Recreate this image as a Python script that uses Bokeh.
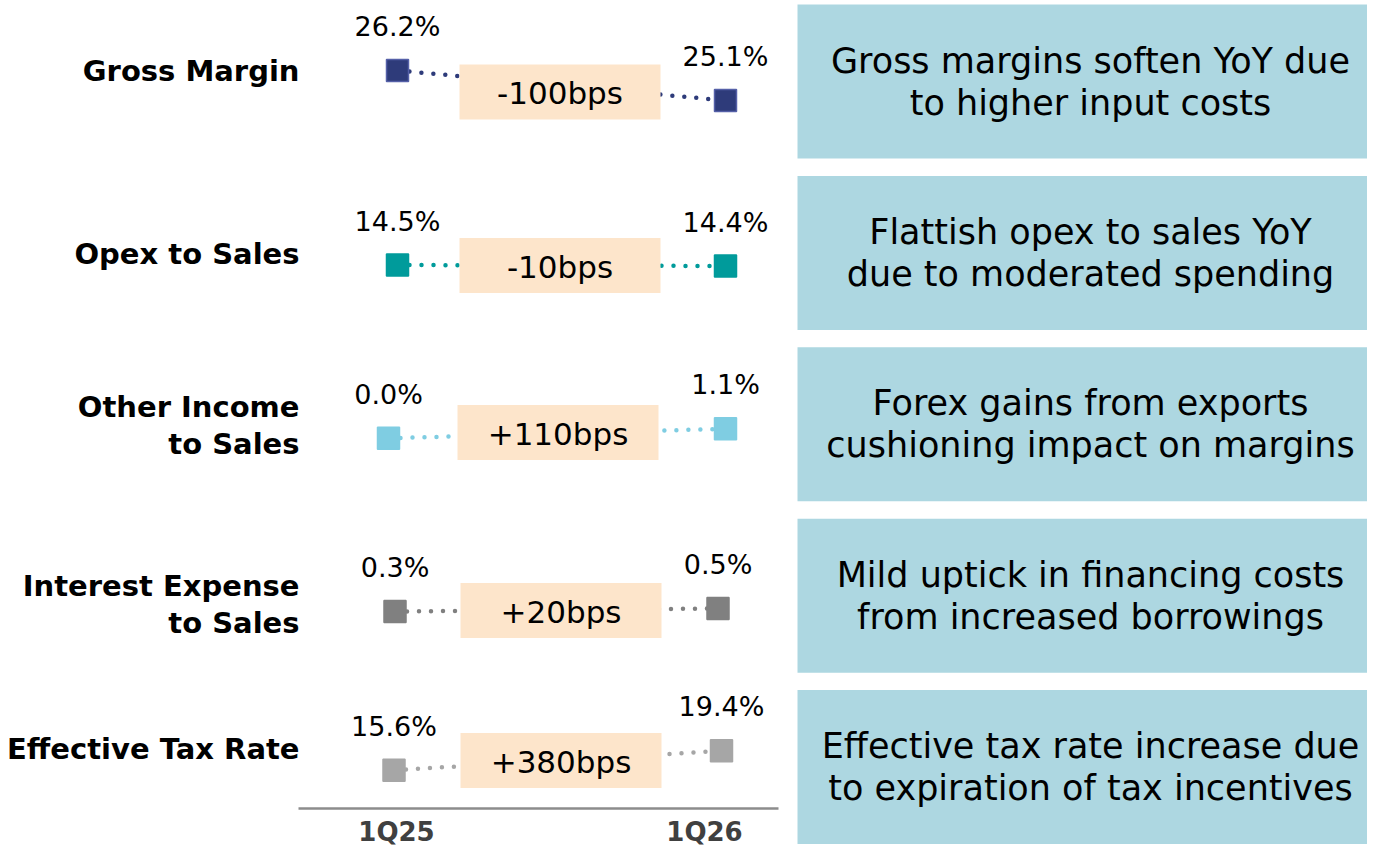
from bokeh.plotting import figure
from bokeh.models import Range1d
from bokeh.core.properties import value
from bokeh.embed import file_html
from bokeh.resources import INLINE

# ---------------- data ----------------
metrics = ["Gross Margin", "Opex to Sales", "Other Income\nto Sales",
           "Interest Expense\nto Sales", "Effective Tax Rate"]
q25 = [26.2, 14.5, 0.0, 0.3, 15.6]
q26 = [25.1, 14.4, 1.1, 0.5, 19.4]
change_bps = [-100, -10, 110, 20, 380]
comments = [
    "Gross margins soften YoY due\nto higher input costs",
    "Flattish opex to sales YoY\ndue to moderated spending",
    "Forex gains from exports\ncushioning impact on margins",
    "Mild uptick in financing costs\nfrom increased borrowings",
    "Effective tax rate increase due\nto expiration of tax incentives",
]
periods = ["1Q25", "1Q26"]

# ---------------- style / layout ----------------
FONT = "DejaVu Sans"
marker_fill = ["#2E3B7A", "#009B9B", "#7FCDE2", "#808080", "#A6A6A6"]
marker_line = ["#5560A8", "#009B9B", "#7FCDE2", "#808080", "#A6A6A6"]
PEACH = "#FDE5CB"
BLUE = "#ADD7E1"

row_mid = [85, 265, 433, 609.5, 760]        # vertical centre of each mini panel (px)
row_scale = [27.3, 10, 8.6, 15, 5.1]        # px per percentage point per panel
x_left = [397, 397, 388, 394.5, 393.5]
x_right = [725, 725, 725, 717.5, 721]
peach_l = [459, 459, 457, 460, 460]
peach_dy = [6.5, 0, -1, 0.5, 0]
peach_w = 201
peach_h = 55
label_mid = [70, 253, 424.5, 603.5, 748]
box_top0, box_pitch, box_h = 4, 171.4, 154
box_left, box_right = 797, 1390

W, H = 1367, 847
p = figure(width=W, height=H, output_backend="svg", toolbar_location=None,
           x_range=Range1d(0, W), y_range=Range1d(H, 0),
           min_border=0, outline_line_color=None)
p.axis.visible = False
p.grid.visible = False
p.background_fill_color = "white"
p.border_fill_color = "white"

for i, name in enumerate(metrics):
    m = (q25[i] + q26[i]) / 2
    y0 = row_mid[i] - (q25[i] - m) * row_scale[i]
    y1 = row_mid[i] - (q26[i] - m) * row_scale[i]
    xa, xb = x_left[i], x_right[i]
    # dotted connector
    p.segment(x0=[xa], y0=[y0], x1=[xb], y1=[y1], line_color=marker_fill[i],
              line_width=4.5, line_dash="0 12", line_cap="round")
    # change box
    ymid = (y0 + y1) / 2 + peach_dy[i]
    p.quad(left=[peach_l[i]], right=[peach_l[i] + peach_w],
           top=[ymid - peach_h / 2], bottom=[ymid + peach_h / 2],
           fill_color=PEACH, line_color=None)
    lab = ("+" if change_bps[i] > 0 else "") + f"{change_bps[i]}bps"
    p.text(x=[peach_l[i] + peach_w / 2], y=[ymid + 1], text=[lab],
           text_font=value(FONT), text_font_size="31px", text_color="#000000",
           text_align="center", text_baseline="middle")
    # markers
    p.scatter(x=[xa, xb], y=[y0, y1], marker="square", size=22,
              fill_color=marker_fill[i], line_color=marker_line[i], line_width=1.5)
    # value labels
    p.text(x=[xa, xb], y=[y0 - 44, y1 - 44],
           text=[f"{q25[i]:.1f}%", f"{q26[i]:.1f}%"],
           text_font=value(FONT), text_font_size="27px", text_color="#000000",
           text_align="center", text_baseline="middle")
    # metric label
    lines = name.split("\n")
    n = len(lines)
    for k, ln in enumerate(lines):
        yy = label_mid[i] + (k - (n - 1) / 2) * 37
        p.text(x=[299], y=[yy], text=[ln], text_font=value(FONT),
               text_font_size="29px", text_font_style="bold", text_color="#000000",
               text_align="right", text_baseline="middle")
    # comment box
    bt = box_top0 + i * box_pitch
    p.quad(left=[box_left], right=[box_right], top=[bt], bottom=[bt + box_h],
           fill_color=BLUE, line_color=None)
    cl = comments[i].split("\n")
    for k, ln in enumerate(cl):
        yy = bt + box_h / 2 + (k - 0.5) * 42
        p.text(x=[(box_left + 1383) / 2], y=[yy], text=[ln], text_font=value(FONT),
               text_font_size="35px", text_color="#000000",
               text_align="center", text_baseline="middle")

# x "axis"
p.segment(x0=[298], y0=[808], x1=[778], y1=[808], line_color="#8C8C8C", line_width=2.5)
p.text(x=[396, 704], y=[831, 831], text=periods, text_font=value(FONT),
       text_font_size="26px", text_font_style="bold", text_color="#404040",
       text_align="center", text_baseline="middle")

open("out.html", "w").write(file_html(p, INLINE))
